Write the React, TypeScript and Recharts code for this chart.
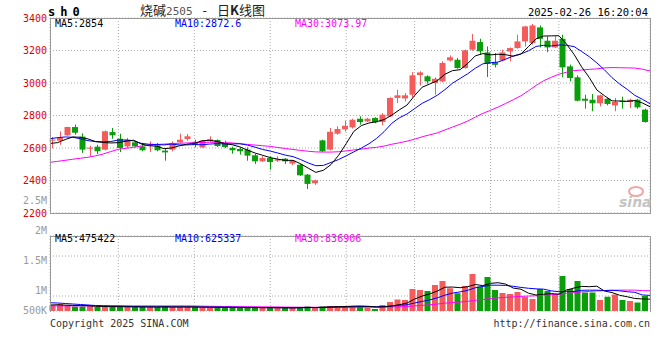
import React from 'react'
import { ComposedChart, Bar, Line, XAxis, YAxis, CartesianGrid, Cell } from 'recharts'

const MONO = '"DejaVu Sans Mono", "Liberation Mono", monospace'
const UP = '#f45b5b'
const DOWN = '#0a9e0a'
const GRID = '#aaaaaa'
const FRAME = '#999999'

// trading days shown (10-29 .. 02-26)
const dates = [
  '10-29', '10-30', '10-31', '11-01', '11-04', '11-05', '11-06', '11-07', '11-08', '11-11',
  '11-12', '11-13', '11-14', '11-15', '11-18', '11-19', '11-20', '11-21', '11-22', '11-25',
  '11-26', '11-27', '11-28', '11-29', '12-02', '12-03', '12-04', '12-05', '12-06', '12-09',
  '12-10', '12-11', '12-12', '12-13', '12-16', '12-17', '12-18', '12-19', '12-20', '12-23',
  '12-24', '12-25', '12-26', '12-27', '12-30', '12-31', '01-02', '01-03', '01-06', '01-07',
  '01-08', '01-09', '01-10', '01-13', '01-14', '01-15', '01-16', '01-17', '01-20', '01-21',
  '01-22', '01-23', '01-24', '01-27', '02-05', '02-06', '02-07', '02-10', '02-11', '02-12',
  '02-13', '02-14', '02-17', '02-18', '02-19', '02-20', '02-21', '02-24', '02-25', '02-26',
]

const opens = [
  2645, 2645, 2678, 2729, 2670, 2598, 2608, 2590, 2698, 2657,
  2610, 2635, 2610, 2616, 2616, 2584, 2590, 2635, 2655, 2637,
  2604, 2641, 2649, 2631, 2600, 2594, 2590, 2555, 2518, 2538,
  2522, 2534, 2504, 2497, 2436, 2383, 2647, 2590, 2688, 2715,
  2727, 2780, 2764, 2785, 2760, 2795, 2908, 2905, 2928, 3049,
  3041, 3000, 3010, 3139, 3143, 3092, 3205, 3252, 3188, 3127,
  3139, 3194, 3215, 3256, 3246, 3342, 3260, 3219, 3272, 3102,
  3035, 2903, 2897, 2875, 2903, 2862, 2891, 2883, 2897, 2836,
]
const highs = [
  2668, 2702, 2731, 2744, 2690, 2614, 2620, 2708, 2723, 2688,
  2662, 2641, 2631, 2641, 2631, 2600, 2641, 2688, 2686, 2651,
  2649, 2672, 2653, 2645, 2608, 2604, 2604, 2563, 2549, 2549,
  2549, 2538, 2526, 2504, 2440, 2405, 2651, 2723, 2733, 2768,
  2780, 2795, 2785, 2789, 2815, 2912, 2959, 2938, 3067, 3072,
  3047, 3035, 3133, 3170, 3154, 3205, 3301, 3272, 3225, 3184,
  3205, 3219, 3297, 3352, 3363, 3354, 3287, 3287, 3297, 3113,
  3047, 2928, 2932, 2928, 2908, 2908, 2916, 2903, 2903, 2842,
]
const lows = [
  2598, 2620, 2675, 2682, 2570, 2549, 2563, 2585, 2657, 2575,
  2600, 2604, 2580, 2575, 2580, 2522, 2580, 2631, 2645, 2604,
  2600, 2637, 2606, 2600, 2565, 2559, 2522, 2502, 2514, 2467,
  2514, 2502, 2494, 2428, 2348, 2373, 2575, 2584, 2682, 2702,
  2720, 2744, 2760, 2752, 2740, 2791, 2877, 2887, 2912, 2985,
  2996, 2928, 3004, 3133, 3088, 3088, 3199, 3174, 3037, 3096,
  3133, 3133, 3211, 3225, 3236, 3219, 3190, 3215, 3035, 3010,
  2887, 2842, 2826, 2856, 2862, 2826, 2842, 2846, 2842, 2756,
]
const closes = [
  2652, 2666, 2729, 2694, 2590, 2602, 2580, 2703, 2678, 2600,
  2651, 2610, 2586, 2625, 2586, 2573, 2631, 2651, 2672, 2620,
  2645, 2653, 2612, 2606, 2586, 2580, 2553, 2518, 2538, 2514,
  2530, 2518, 2522, 2432, 2379, 2401, 2580, 2700, 2717, 2737,
  2774, 2760, 2780, 2758, 2805, 2908, 2924, 2924, 3047, 3065,
  3010, 3026, 3123, 3158, 3092, 3201, 3260, 3195, 3117, 3112,
  3188, 3215, 3256, 3348, 3354, 3272, 3219, 3260, 3096, 3031,
  2891, 2891, 2875, 2924, 2871, 2883, 2883, 2897, 2850, 2760,
]

const ma5 = [
  2628, 2633, 2652, 2668, 2666, 2656, 2639, 2634, 2631, 2633,
  2642, 2648, 2625, 2614, 2612, 2596, 2600, 2613, 2623, 2629,
  2644, 2648, 2640, 2627, 2620, 2607, 2587, 2569, 2555, 2541,
  2531, 2524, 2524, 2503, 2476, 2450, 2463, 2498, 2555, 2627,
  2702, 2738, 2754, 2762, 2775, 2802, 2835, 2864, 2922, 2974,
  2994, 3014, 3054, 3076, 3082, 3120, 3167, 3181, 3173, 3177,
  3174, 3165, 3178, 3224, 3272, 3289, 3290, 3291, 3240, 3176,
  3099, 3034, 2957, 2922, 2890, 2889, 2887, 2892, 2877, 2854,
]
const ma10 = [
  2657, 2664, 2668, 2666, 2657, 2645, 2640, 2638, 2640, 2649,
  2649, 2644, 2629, 2623, 2622, 2619, 2624, 2619, 2619, 2621,
  2620, 2624, 2627, 2625, 2625, 2626, 2618, 2605, 2591, 2581,
  2569, 2556, 2547, 2529, 2508, 2491, 2493, 2511, 2529, 2552,
  2576, 2600, 2626, 2659, 2701, 2752, 2786, 2809, 2842, 2875,
  2898, 2925, 2959, 2999, 3028, 3057, 3091, 3118, 3125, 3129,
  3147, 3166, 3179, 3198, 3225, 3232, 3228, 3234, 3232, 3224,
  3194, 3162, 3124, 3081, 3033, 2994, 2961, 2924, 2900, 2872.6,
]
const ma30 = [
  2512, 2518, 2524, 2531, 2537, 2543, 2552, 2563, 2578, 2592,
  2598, 2604, 2612, 2618, 2622, 2624, 2627, 2629, 2631, 2633,
  2634, 2635, 2635, 2633, 2631, 2627, 2622, 2618, 2614, 2610,
  2603, 2597, 2591, 2585, 2580, 2576, 2575, 2575, 2577, 2582,
  2588, 2593, 2600, 2604, 2612, 2623, 2632, 2642, 2654, 2669,
  2681, 2693, 2711, 2729, 2746, 2766, 2790, 2813, 2832, 2852,
  2874, 2897, 2921, 2952, 2985, 3014, 3035, 3054, 3066, 3076,
  3080, 3084, 3087, 3093, 3095, 3094, 3093, 3092, 3085, 3074,
]

// volume in thousands of lots
const volumes = [
  220, 280, 220, 180, 180, 200, 160, 180, 160, 180,
  160, 160, 160, 160, 160, 180, 160, 160, 160, 160,
  140, 140, 140, 140, 140, 120, 140, 140, 120, 140,
  120, 120, 120, 160, 180, 120, 180, 200, 200, 200,
  200, 200, 130, 80, 240, 360, 460, 440, 880, 840,
  800, 1040, 1200, 910, 710, 1000, 1480, 980, 1360, 840,
  720, 680, 760, 560, 480, 880, 800, 640, 1400, 880,
  1200, 740, 740, 440, 570, 660, 440, 400, 340, 600,
]
const vma5 = [
  240, 250, 235, 225, 216, 212, 188, 180, 176, 176,
  168, 168, 164, 164, 160, 164, 164, 164, 164, 164,
  156, 152, 148, 144, 140, 136, 136, 136, 132, 132,
  132, 128, 124, 132, 140, 140, 152, 168, 176, 180,
  196, 200, 186, 162, 170, 202, 254, 316, 476, 596,
  684, 800, 952, 958, 932, 972, 1060, 1016, 1106, 1132,
  1076, 916, 872, 712, 640, 672, 696, 672, 840, 920,
  984, 972, 992, 800, 738, 630, 570, 502, 482, 475,
]
const vma10 = [
  330, 320, 300, 280, 260, 240, 220, 210, 200, 196,
  190, 178, 172, 170, 168, 166, 166, 164, 164, 162,
  160, 158, 156, 154, 152, 146, 144, 142, 138, 136,
  134, 132, 130, 132, 136, 136, 140, 146, 154, 160,
  168, 176, 177, 169, 175, 199, 227, 251, 319, 383,
  443, 527, 634, 717, 764, 828, 930, 984, 1032, 1032,
  1024, 988, 944, 909, 886, 874, 806, 772, 776, 780,
  828, 834, 832, 820, 829, 807, 771, 747, 641, 625,
]
const vma30 = [
  205, 205, 205, 205, 205, 205, 205, 205, 205, 205,
  205, 205, 205, 205, 205, 205, 205, 205, 205, 200,
  195, 190, 185, 180, 178, 175, 172, 170, 168, 165,
  161, 156, 153, 152, 152, 149, 150, 151, 152, 153,
  154, 155, 154, 152, 154, 160, 170, 180, 204, 226,
  248, 278, 314, 339, 358, 388, 432, 460, 502, 525,
  545, 564, 585, 598, 608, 634, 654, 669, 709, 732,
  765, 783, 803, 815, 826, 836, 836, 834, 816, 808,
]

const priceTicks = [2200, 2400, 2600, 2800, 3000, 3200, 3400]
const dateTicks = ['10-29', '11-11', '11-25', '12-09', '12-23', '01-06', '01-20', '02-10', '02-24']
const gridDates = ['11-11', '11-25', '12-09', '12-23', '01-06', '01-20', '02-10']
const volTickValues = [500000, 1000000, 1500000, 2000000, 2500000]
const volTickLabels = ['500K', '1M', '1.5M', '2M', '2.5M']
const volGridValues = [600000, 1400000, 2200000]

const rows = dates.map((date, i) => ({
  date,
  open: opens[i],
  high: highs[i],
  low: lows[i],
  close: closes[i],
  ma5: ma5[i],
  ma10: ma10[i],
  ma30: ma30[i],
  vol: volumes[i] * 1000,
  vma5: vma5[i] * 1000,
  vma10: vma10[i] * 1000,
  vma30: vma30[i] * 1000,
}))

const VOL_BOTTOM = 121 // plot bottom inside the volume svg

function Candle(props: any) {
  const { x, y, width, height, payload } = props
  if (!payload) return null
  const { open, close, high, low } = payload
  const color = close >= open ? UP : DOWN
  const k = height / (high - low || 1)
  const yO = y + (high - open) * k
  const yC = y + (high - close) * k
  const top = Math.min(yO, yC)
  const h = Math.max(1, Math.abs(yO - yC))
  const cx = Math.floor(x + width / 2) + 0.5
  return (
    <g>
      <line x1={cx} x2={cx} y1={y} y2={y + height} stroke={color} strokeWidth={1} />
      <rect x={x} y={top} width={width} height={h} fill={color} />
    </g>
  )
}

function VolTick(props: any) {
  const { x, y, payload } = props
  const i = volTickValues.indexOf(payload.value)
  return (
    <text x={x} y={Math.min(y, VOL_BOTTOM - 1)} dy="0.355em" textAnchor="end" fill="#9a9a9a" fontSize={10} fontFamily={MONO}>
      {volTickLabels[i]}
    </text>
  )
}

function Txt({ left, right, top, size = 10, color = '#000', style, children }: any) {
  return (
    <div
      style={{
        position: 'absolute',
        left,
        right,
        top,
        fontSize: size,
        lineHeight: `${size + 2}px`,
        color,
        fontFamily: MONO,
        whiteSpace: 'nowrap',
        ...style,
      }}
    >
      {children}
    </div>
  )
}

const maLine = (key: string, color: string, yAxisId?: string) => (
  <Line
    xAxisId="pt"
    yAxisId={yAxisId ?? 0}
    type="linear"
    dataKey={key}
    stroke={color}
    strokeWidth={1}
    dot={false}
    activeDot={false}
    isAnimationActive={false}
  />
)

export default function App() {
  return (
    <div style={{ position: 'absolute', left: 0, top: 0, width: 660, height: 360, background: '#fff', overflow: 'hidden' }}>
      <div style={{ position: 'absolute', left: 0, top: 0 }}>
        <ComposedChart width={660} height={230} data={rows} margin={{ top: 18, right: 10, bottom: 0, left: 0 }}>
          <XAxis xAxisId="band" dataKey="date" scale="band" hide padding={{ left: -1.5, right: 1.5 }} />
          <XAxis xAxisId="grid" dataKey="date" scale="point" ticks={gridDates} hide />
          <XAxis
            xAxisId="pt"
            dataKey="date"
            scale="point"
            ticks={dateTicks}
            interval={0}
            height={17}
            tickSize={0}
            tickMargin={4}
            tickLine={false}
            axisLine={false}
            tick={{ fill: '#0070c0', fontSize: 10, fontFamily: MONO }}
          />
          <YAxis
            domain={[2200, 3400]}
            ticks={priceTicks}
            interval={0}
            width={50}
            tickSize={0}
            tickMargin={3}
            tickLine={false}
            axisLine={false}
            allowDataOverflow
            tick={{ fill: '#e00000', fontSize: 10, fontFamily: MONO }}
          />
          <CartesianGrid xAxisId="grid" stroke={GRID} strokeDasharray="1 2" />
          <Bar xAxisId="band" dataKey={(d: any) => [d.low, d.high]} barSize={6} shape={Candle} isAnimationActive={false} />
          {maLine('ma30', '#ff00ff')}
          {maLine('ma10', '#0000ff')}
          {maLine('ma5', '#000000')}
        </ComposedChart>
      </div>

      <div style={{ position: 'absolute', left: 0, top: 190 }}>
        <ComposedChart width={660} height={130} data={rows} margin={{ top: 46, right: 10, bottom: 9, left: 0 }}>
          <XAxis xAxisId="band" dataKey="date" scale="band" hide padding={{ left: -1.5, right: 1.5 }} />
          <XAxis xAxisId="grid" dataKey="date" scale="point" ticks={gridDates} hide />
          <XAxis xAxisId="pt" dataKey="date" scale="point" hide />
          <YAxis
            yAxisId="lbl"
            domain={[650000, 1900000]}
            ticks={volTickValues}
            interval={0}
            width={50}
            tickSize={0}
            tickMargin={3}
            tickLine={false}
            axisLine={false}
            allowDataOverflow
            tick={<VolTick />}
          />
          <YAxis yAxisId="v" domain={[0, 3000000]} ticks={volGridValues} hide allowDataOverflow />
          <CartesianGrid xAxisId="grid" yAxisId="v" stroke={GRID} strokeDasharray="1 2" />
          <Bar xAxisId="band" yAxisId="v" dataKey="vol" barSize={6} isAnimationActive={false}>
            {rows.map((r, i) => (
              <Cell key={i} fill={r.close >= r.open ? UP : DOWN} />
            ))}
          </Bar>
          {maLine('vma30', '#ff00ff', 'v')}
          {maLine('vma10', '#0000ff', 'v')}
          {maLine('vma5', '#000000', 'v')}
        </ComposedChart>
      </div>

      {/* panel frames */}
      <div style={{ position: 'absolute', left: 50, top: 18, width: 601, height: 196, border: `1px solid ${FRAME}`, boxSizing: 'border-box' }} />
      <div style={{ position: 'absolute', left: 50, top: 236, width: 601, height: 76, borderTop: `1px solid ${FRAME}`, borderLeft: `1px solid ${FRAME}`, borderRight: `1px solid ${FRAME}`, boxSizing: 'border-box' }} />

      {/* header */}
      <Txt left={48} top={5} size={12} style={{ fontWeight: 'bold', letterSpacing: 5 }}>sh0</Txt>
      <Txt left={140} top={3} size={13} color="#222" style={{ fontFamily: '"Noto Sans CJK SC", sans-serif', lineHeight: '14px' }}>
        烧碱<span style={{ color: '#555', fontFamily: MONO, fontSize: 11 }}>2505</span>
        <span style={{ margin: '0 10px' }}>-</span>日<b>K</b>线图
      </Txt>
      <Txt right={12} top={6} size={10.5}>2025-02-26 16:20:04</Txt>

      <Txt left={55} top={18}>MA5:2854</Txt>
      <Txt left={175} top={18} color="#0000ff">MA10:2872.6</Txt>
      <Txt left={295} top={18} color="#ff00ff">MA30:3073.97</Txt>

      <Txt left={55} top={233}>MA5:475422</Txt>
      <Txt left={175} top={233} color="#0000ff">MA10:625337</Txt>
      <Txt left={295} top={233} color="#ff00ff">MA30:836906</Txt>

      {/* watermark */}
      <div style={{ position: 'absolute', left: 628, top: 186, width: 12, height: 7, borderRadius: '50%', border: '2px solid #f2a6a6' }} />
      <Txt left={619} top={194} size={14} color="#c4c4c4" style={{ fontFamily: '"DejaVu Sans", sans-serif', fontStyle: 'italic', fontWeight: 'bold' }}>
        sina
      </Txt>

      {/* footer */}
      <Txt left={50} top={318} color="#333">Copyright 2025 SINA.COM</Txt>
      <Txt right={10} top={318} color="#333">http://finance.sina.com.cn</Txt>
    </div>
  )
}
